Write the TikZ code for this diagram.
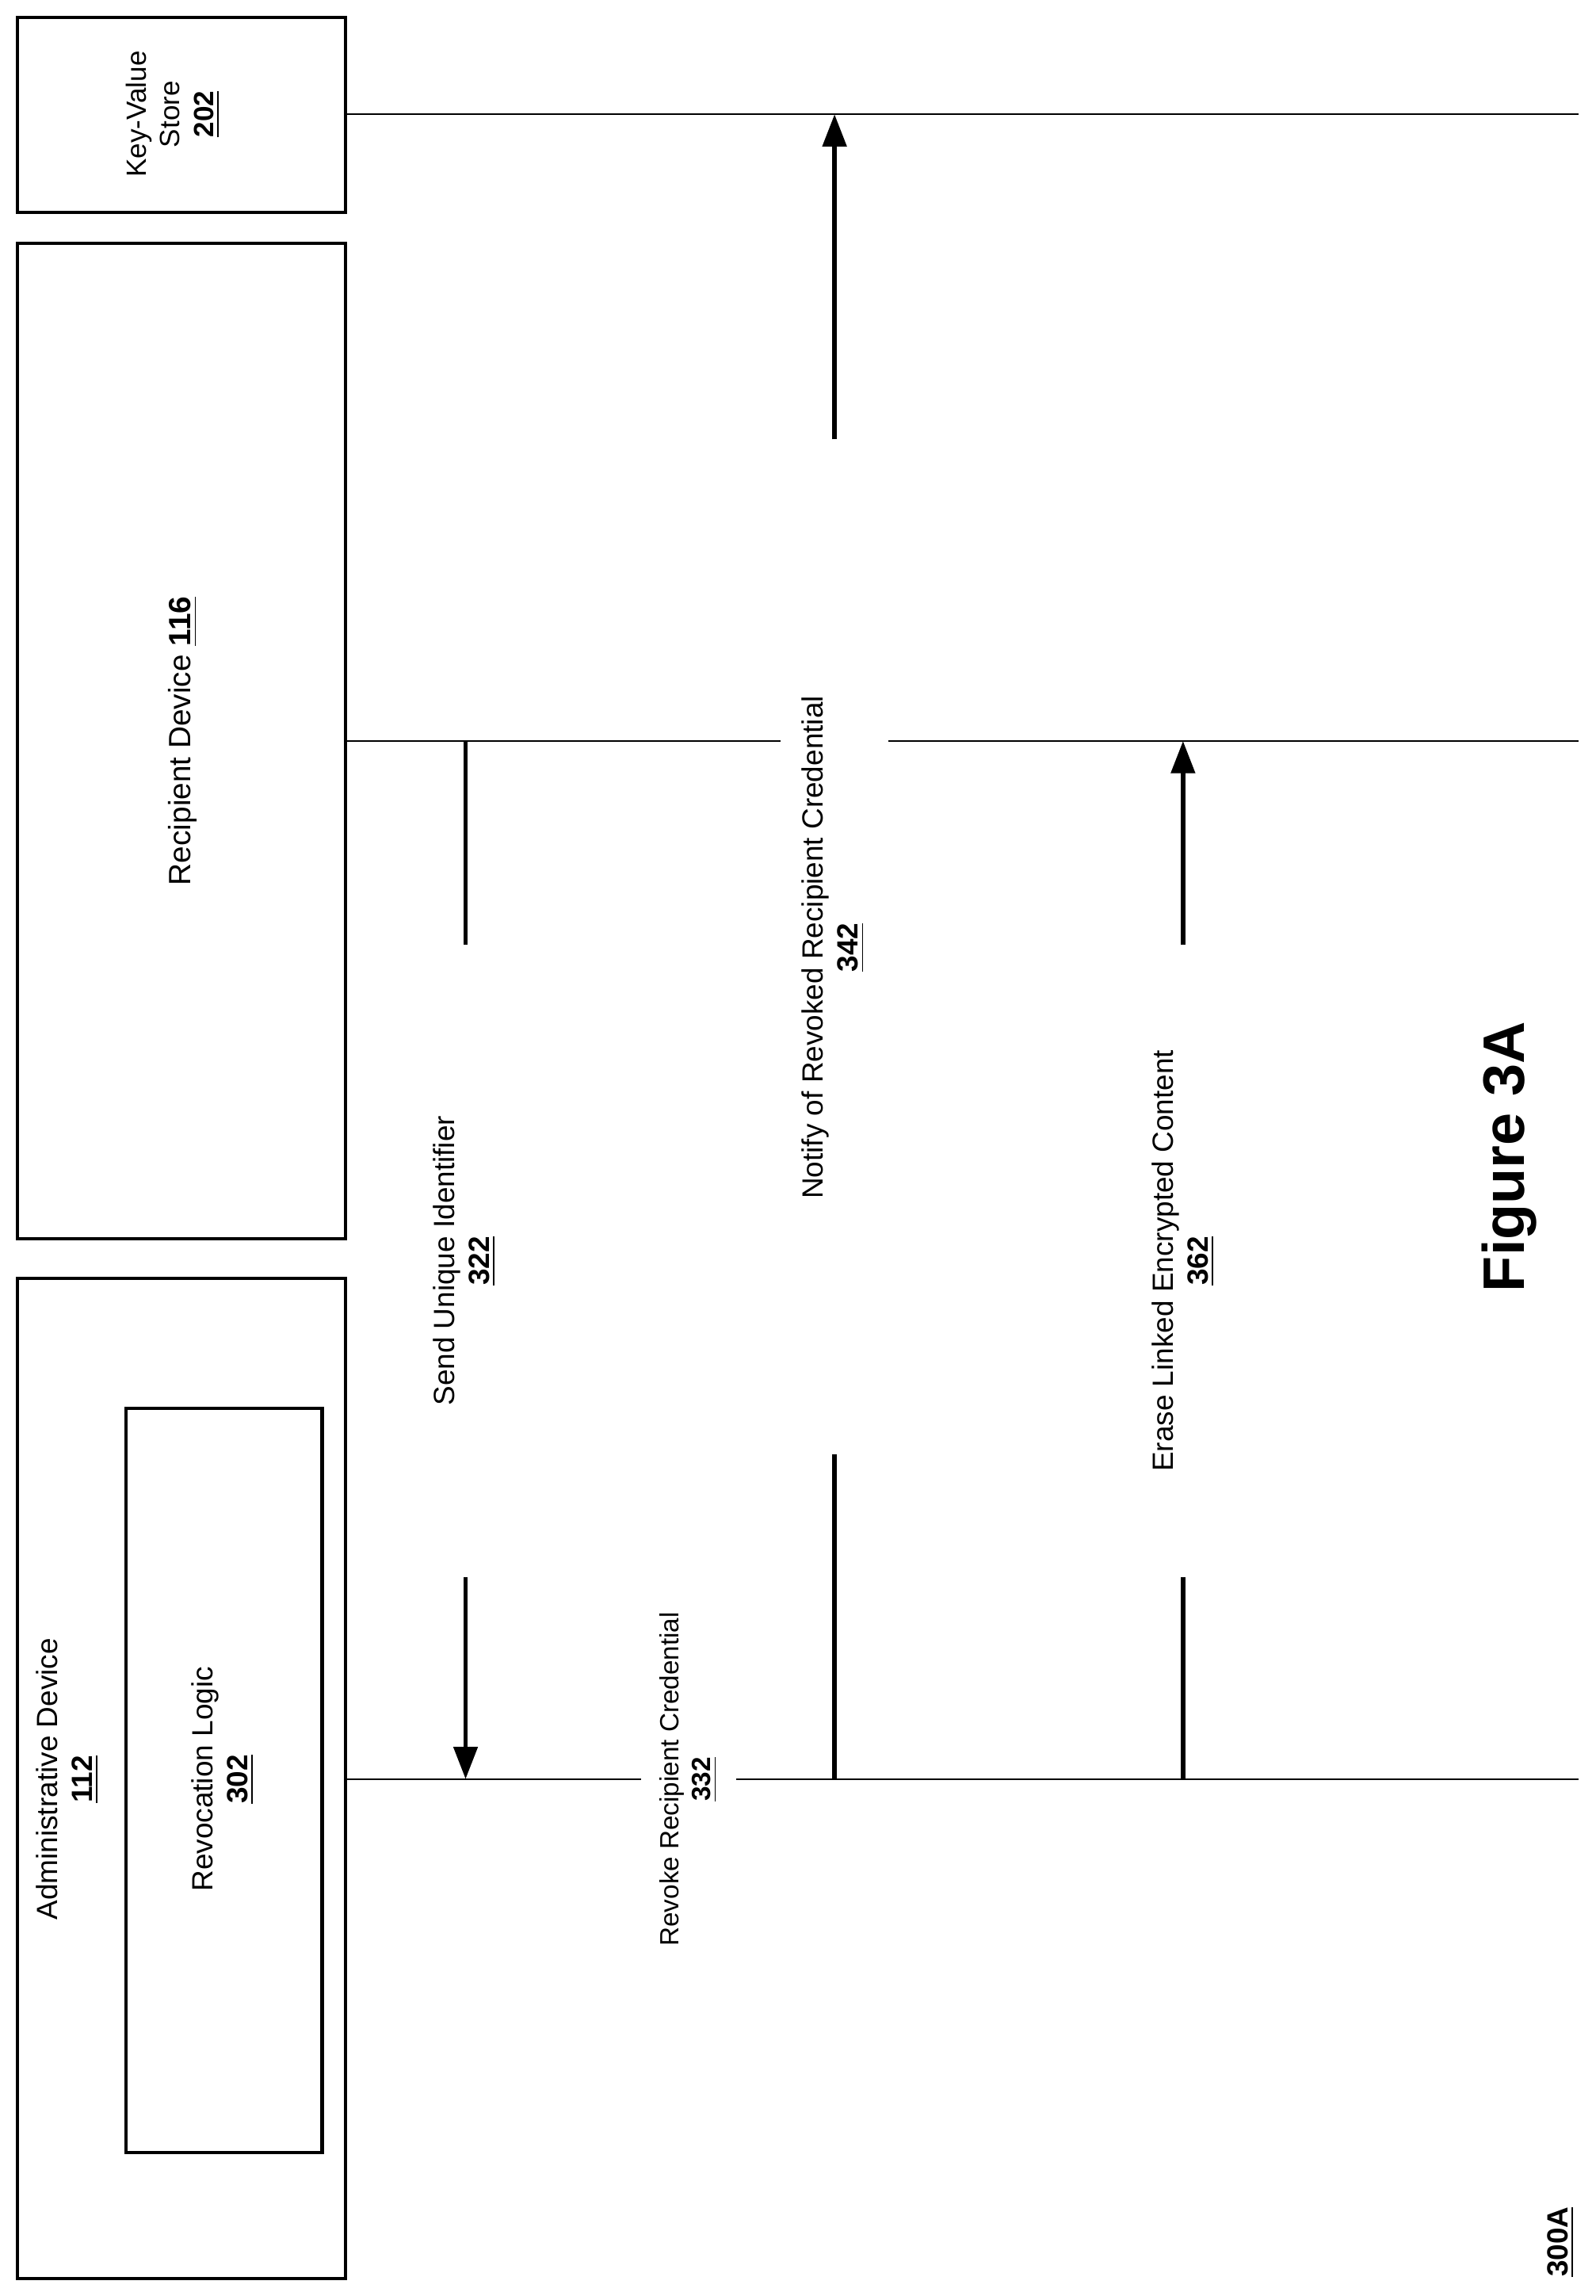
\documentclass[tikz,border=0pt]{standalone}
\usepackage{fontspec}
\setmainfont{Liberation Sans}
\usetikzlibrary{arrows.meta}
\begin{document}
\begin{tikzpicture}[x=0.5pt,y=-0.5pt,
  box/.style={draw,line width=1.1pt},
  life/.style={line width=0.7pt},
  msg/.style={line width=1.6pt},
  msgarrow/.style={line width=1.6pt,-{Triangle[length=11pt,width=8pt]}},
  lbl/.style={rotate=90,align=center,font=\fontsize{9}{11}\selectfont,inner sep=0pt}]
\useasboundingbox (0,0) rectangle (1090,1568);
% boxes
\draw[box] (12,12) rectangle (236,145);
\node[lbl,font=\fontsize{9.5}{11.5}\selectfont] (kvs) at (118,78) {Key-Value\\Store\\\textbf{\underline{202}}};
\draw[box] (12,166) rectangle (236,846);
\node[lbl,font=\fontsize{10.5}{12}\selectfont] (rd) at (125,506) {Recipient Device \textbf{\underline{116}}};
\draw[box] (12,873) rectangle (236,1556);
\node[lbl,font=\fontsize{10}{12}\selectfont] (ad) at (46,1215) {Administrative Device\\\textbf{\underline{112}}};
\draw[box] (86,962) rectangle (220,1470);
\node[lbl,font=\fontsize{10}{12}\selectfont] (rl) at (152,1215) {Revocation Logic\\\textbf{\underline{302}}};
% lifelines
\coordinate (k0) at (236,78); \coordinate (k1) at (1078,78);
\coordinate (r0) at (236,506); \coordinate (r1) at (533,506);
\coordinate (r2) at (607,506); \coordinate (r3) at (1078,506);
\coordinate (a0) at (236,1215); \coordinate (a1) at (438,1215);
\coordinate (a2) at (503,1215); \coordinate (a3) at (1078,1215);
\draw[life] (k0)--(k1);
\draw[life] (r0)--(r1); \draw[life] (r2)--(r3);
\draw[life] (a0)--(a1); \draw[life] (a2)--(a3);
% message 322
\coordinate (m1a) at (318,506); \coordinate (m1b) at (318,645);
\coordinate (m1c) at (318,1077); \coordinate (m1d) at (318,1215);
\draw[msg] (m1a)--(m1b);
\draw[msgarrow] (m1c)--(m1d);
\node[lbl,font=\fontsize{10}{12}\selectfont] (l322) at (317,861) {Send Unique Identifier\\\textbf{\underline{322}}};
% label 332
\node[lbl] (l332) at (470,1215) {Revoke Recipient Credential\\\textbf{\underline{332}}};
% message 342
\coordinate (m2a) at (570,1215); \coordinate (m2b) at (570,993);
\coordinate (m2c) at (570,300); \coordinate (m2d) at (570,78);
\draw[msg] (m2a)--(m2b);
\draw[msgarrow] (m2c)--(m2d);
\node[lbl,font=\fontsize{10}{12}\selectfont] (l342) at (569,647) {Notify of Revoked Recipient Credential\\\textbf{\underline{342}}};
% message 362
\coordinate (m3a) at (808,1215); \coordinate (m3b) at (808,1077);
\coordinate (m3c) at (808,645); \coordinate (m3d) at (808,506);
\draw[msg] (m3a)--(m3b);
\draw[msgarrow] (m3c)--(m3d);
\node[lbl,font=\fontsize{10}{12}\selectfont] (l362) at (808,861) {Erase Linked Encrypted Content\\\textbf{\underline{362}}};
% titles
\node[rotate=90,inner sep=0pt,font=\fontsize{20}{24}\selectfont\bfseries] (fig) at (1031,790) {Figure 3A};
\node[rotate=90,inner sep=0pt,font=\fontsize{10}{12}\selectfont\bfseries] (ref) at (1066,1531) {\underline{300A}};
\end{tikzpicture}
\end{document}
